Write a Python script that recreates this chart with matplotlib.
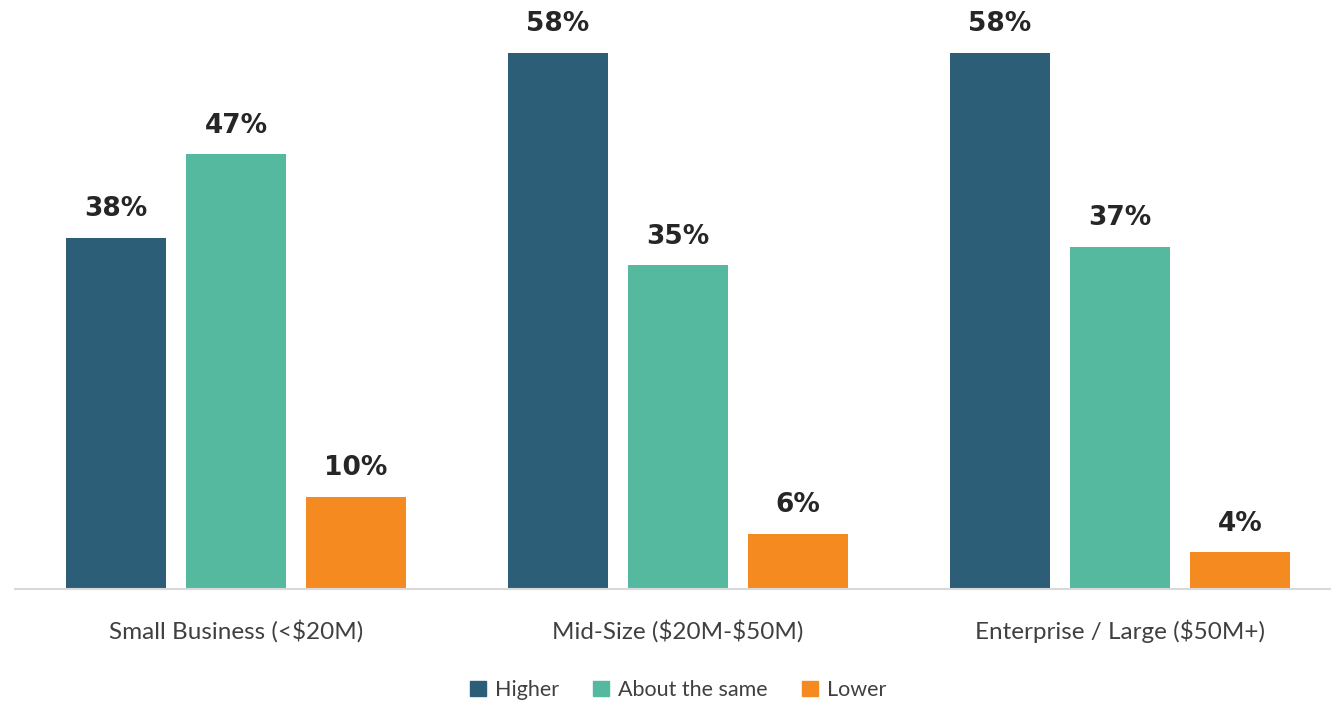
import numpy as np
import matplotlib.pyplot as plt
from matplotlib.patches import Patch

plt.rcParams['text.parse_math'] = False

categories = ['Small Business (<$20M)', 'Mid-Size ($20M-$50M)', 'Enterprise / Large ($50M+)']
series = ['Higher', 'About the same', 'Lower']
higher = [38, 58, 58]
same = [47, 35, 37]
lower = [10, 6, 4]
colors = ['#2d5e77', '#55b9a0', '#f58a21']

fig = plt.figure(figsize=(13.31, 7.03), dpi=100)
ax = fig.add_axes([15 / 1331, 114 / 703, 1316 / 1331, 555 / 703])

x = np.arange(len(categories))
w = 0.226
step = 0.2715
for k, (vals, c) in enumerate(zip([higher, same, lower], colors)):
    pos = x + (k - 1) * step
    ax.bar(pos, vals, width=w, color=c, zorder=2)
    for p, v in zip(pos, vals):
        ax.annotate(f'{v}%', (p, v), xytext=(0, 11), textcoords='offset points',
                    ha='center', va='bottom', fontsize=19, fontweight='heavy',
                    family='DejaVu Sans', color='#262626')

ax.set_xlim(-0.5, 2.477)
ax.set_ylim(0, 60)
ax.set_yticks([])
ax.set_xticks(x)
ax.set_xticklabels(categories, fontsize=17.5, family='Lato', color='#404040')
ax.tick_params(axis='x', length=0, pad=22)
for s in ['top', 'right', 'left']:
    ax.spines[s].set_visible(False)
ax.spines['bottom'].set_color('#d9d9d9')
ax.spines['bottom'].set_linewidth(1.5)

handles = [Patch(color=c, label=s) for s, c in zip(series, colors)]
fig.legend(handles=handles, loc='center', bbox_to_anchor=(678 / 1331, 1 - 690 / 703),
           ncol=3, frameon=False, handlelength=0.75, handleheight=0.75,
           handletextpad=0.4, columnspacing=1.6,
           prop={'family': 'Lato', 'size': 15.5})
for t in fig.legends[0].get_texts():
    t.set_color('#404040')

fig.savefig('out.png', dpi=100)
